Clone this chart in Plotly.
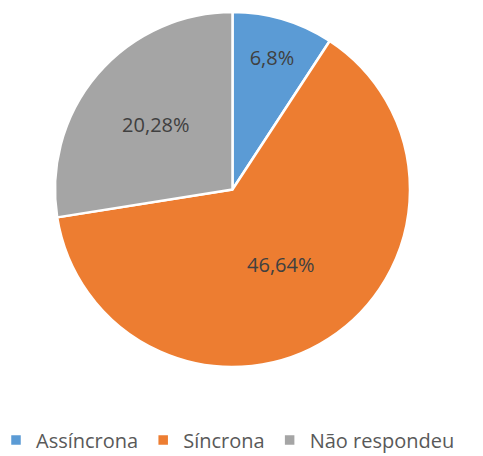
import plotly.graph_objects as go

# 回答区分と割合 (%)
categories = ["Assíncrona", "Síncrona", "Não respondeu"]
values = [6.8, 46.64, 20.28]
colors = ["#5B9BD5", "#ED7D31", "#A5A5A5"]

# ラベルはカンマ小数点表記
labels = [f"{v:g}".replace(".", ",") + "%" for v in values]

W, H = 483, 456
OFF = 8       # ページ本体の余白分を補正
B = 60        # 凡例用の下余白
PH = H - B    # プロット領域の高さ

fig = go.Figure()
fig.add_trace(go.Pie(
    labels=categories,
    values=values,
    text=labels,
    texttemplate="%{text}",
    textinfo="text",
    textposition="inside",
    insidetextorientation="horizontal",
    textfont=dict(family="Open Sans", size=20, color="#404040"),
    marker=dict(colors=colors, line=dict(color="white", width=2.5)),
    sort=False,
    direction="clockwise",
    rotation=0,
    hole=0,
    domain=dict(x=[(55 - OFF) / W, (410 - OFF) / W],
                y=[1 - (367 - OFF) / PH, 1 - (12 - OFF) / PH]),
))

fig.update_layout(
    width=W,
    height=H,
    margin=dict(l=0, r=0, t=0, b=B, autoexpand=False),
    paper_bgcolor="white",
    showlegend=True,
    legend=dict(
        orientation="h",
        x=-12 / W, xanchor="left",
        y=(PH - (440 - OFF)) / PH, yanchor="middle",
        font=dict(family="Open Sans", size=20, color="#595959"),
        itemwidth=30,
    ),
)

fig.write_html("out.html")
